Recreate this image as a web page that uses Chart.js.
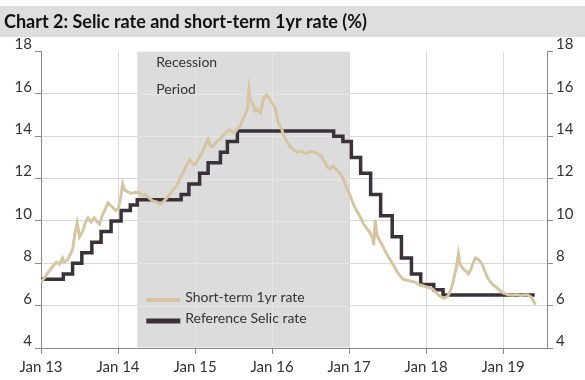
<!DOCTYPE html>
<html>
<head>
<meta charset="utf-8">
<script src="https://cdn.jsdelivr.net/npm/chart.js@4.4.1/dist/chart.umd.min.js"></script>
<style>
  html, body { margin: 0; padding: 0; background: #ffffff; }
  #wrap { width: 585px; height: 380px; position: relative; }
</style>
</head>
<body>
<div id="wrap"><canvas id="c" width="585" height="380"></canvas></div>
<script>
// ---- Data (x values are decimal years) ----
const titleText = 'Chart 2: Selic rate and short-term 1yr rate (%)';
const seriesNames = ['Short-term 1yr rate', 'Reference Selic rate'];

const shortTermDates = [
  2013.00, 2013.05, 2013.09, 2013.15, 2013.20, 2013.24, 2013.28, 2013.30, 2013.34, 2013.37,
  2013.41, 2013.44, 2013.47, 2013.50, 2013.54, 2013.58, 2013.61, 2013.65, 2013.69, 2013.72,
  2013.76, 2013.80, 2013.84, 2013.87, 2013.90, 2013.93, 2013.97, 2014.00, 2014.03, 2014.06,
  2014.09, 2014.12, 2014.17, 2014.22, 2014.27, 2014.32, 2014.36, 2014.40, 2014.45, 2014.50,
  2014.55, 2014.60, 2014.65, 2014.70, 2014.76, 2014.80, 2014.84, 2014.88, 2014.93, 2014.97,
  2015.00, 2015.04, 2015.08, 2015.12, 2015.17, 2015.20, 2015.23, 2015.28, 2015.32, 2015.38,
  2015.45, 2015.51, 2015.55, 2015.58, 2015.62, 2015.65, 2015.68, 2015.70, 2015.72, 2015.75,
  2015.78, 2015.81, 2015.85, 2015.89, 2015.93, 2015.97, 2016.01, 2016.04, 2016.08, 2016.12,
  2016.16, 2016.20, 2016.25, 2016.28, 2016.33, 2016.38, 2016.42, 2016.46, 2016.50, 2016.55,
  2016.60, 2016.64, 2016.68, 2016.72, 2016.75, 2016.79, 2016.83, 2016.87, 2016.90, 2016.94,
  2016.98, 2017.01, 2017.05, 2017.08, 2017.12, 2017.15, 2017.19, 2017.23, 2017.27, 2017.31,
  2017.32, 2017.34, 2017.36, 2017.40, 2017.44, 2017.48, 2017.52, 2017.57, 2017.61, 2017.65,
  2017.70, 2017.75, 2017.81, 2017.86, 2017.90, 2017.95, 2017.99, 2018.04, 2018.08, 2018.12,
  2018.16, 2018.20, 2018.24, 2018.28, 2018.31, 2018.34, 2018.37, 2018.39, 2018.42, 2018.44,
  2018.47, 2018.51, 2018.55, 2018.58, 2018.61, 2018.64, 2018.67, 2018.70, 2018.73, 2018.76,
  2018.80, 2018.84, 2018.88, 2018.92, 2018.96, 2019.00, 2019.04, 2019.09, 2019.13, 2019.18,
  2019.23, 2019.27, 2019.32, 2019.36, 2019.39, 2019.42
];
const shortTermValues = [
  7.10, 7.35, 7.55, 7.85, 8.05, 7.95, 8.25, 8.05, 8.15, 8.35,
  8.65, 9.40, 9.90, 9.25, 9.50, 9.95, 10.15, 9.95, 10.15, 10.00,
  9.85, 10.30, 10.60, 10.85, 10.75, 10.65, 10.50, 10.55, 11.00, 11.75,
  11.45, 11.40, 11.30, 11.35, 11.35, 11.20, 11.25, 11.10, 10.95, 10.90,
  10.80, 10.95, 11.15, 11.40, 11.65, 11.95, 12.25, 12.55, 12.90, 12.70,
  12.65, 12.90, 13.15, 13.45, 13.85, 13.55, 13.50, 13.75, 13.85, 14.10,
  14.30, 14.15, 14.35, 14.45, 14.80, 15.00, 15.30, 16.20, 15.70, 15.55,
  15.20, 15.25, 15.10, 15.80, 15.95, 15.75, 15.50, 15.35, 14.65, 14.40,
  13.95, 13.70, 13.45, 13.35, 13.25, 13.30, 13.20, 13.20, 13.30, 13.25,
  13.15, 13.05, 12.80, 12.55, 12.45, 12.60, 12.45, 12.30, 12.15, 11.85,
  11.45, 11.25, 10.85, 10.60, 10.35, 10.15, 9.85, 9.65, 9.45, 9.15,
  8.85, 10.05, 9.35, 9.05, 8.80, 8.50, 8.25, 7.95, 7.70, 7.45,
  7.25, 7.20, 7.15, 7.10, 7.00, 6.95, 6.90, 6.85, 6.80, 6.65,
  6.50, 6.40, 6.35, 6.45, 6.65, 6.95, 7.45, 7.75, 8.45, 7.95,
  7.80, 7.65, 7.50, 7.70, 8.00, 8.25, 8.20, 8.10, 7.95, 7.65,
  7.30, 7.10, 6.95, 6.85, 6.70, 6.60, 6.55, 6.50, 6.50, 6.52,
  6.48, 6.50, 6.50, 6.42, 6.25, 6.05
];

// Selic: value in force from each decision date
const selicDates = [
  2013.00, 2013.29, 2013.41, 2013.53, 2013.66, 2013.78, 2013.91, 2014.04, 2014.16, 2014.25,
  2014.82, 2014.92, 2015.06, 2015.17, 2015.33, 2015.42, 2015.55, 2016.80, 2016.92, 2017.03,
  2017.15, 2017.28, 2017.41, 2017.56, 2017.68, 2017.81, 2017.93, 2018.10, 2018.22, 2019.41
];
const selicValues = [
  7.25, 7.50, 8.00, 8.50, 9.00, 9.50, 10.00, 10.50, 10.75, 11.00,
  11.25, 11.75, 12.25, 12.75, 13.25, 13.75, 14.25, 14.00, 13.75, 13.00,
  12.25, 11.25, 10.25, 9.25, 8.25, 7.50, 7.00, 6.75, 6.50, 6.50
];

const xTickYears = [2013, 2014, 2015, 2016, 2017, 2018, 2019];
const xTickLabels = ['Jan 13', 'Jan 14', 'Jan 15', 'Jan 16', 'Jan 17', 'Jan 18', 'Jan 19'];
const xRange = [2013.0, 2019.57];
const yRange = [4, 18];
const yStep = 2;

const recessionSpan = [2014.25, 2017.0];
const recessionLabels = ['Recession', 'Period'];

// ---- Styling ----
const TAN = '#d6c5a1';
const DARK = '#3a3139';
const FONT = 'Lato, "Open Sans", sans-serif';
const TEXT = '#333333';
const AXIS = '#8a8a8a';
const GRID = '#d9d9d9';

const toPoints = (xs, ys) => xs.map((x, i) => ({ x: x, y: ys[i] }));

const recessionPlugin = {
  id: 'recession',
  beforeDatasetsDraw(chart) {
    const { ctx, chartArea, scales } = chart;
    const x = scales.x, y = scales.y;
    const x0 = x.getPixelForValue(recessionSpan[0]);
    const x1 = x.getPixelForValue(recessionSpan[1]);
    ctx.save();
    ctx.fillStyle = '#dcdcdc';
    ctx.fillRect(x0, chartArea.top, x1 - x0, chartArea.bottom - chartArea.top - 0.5);
    // lighter gridlines over the shaded band
    ctx.strokeStyle = '#e6e6e6';
    ctx.lineWidth = 1;
    y.ticks.forEach(t => {
      if (t.value === yRange[0] || t.value === yRange[1]) return;
      const py = Math.round(y.getPixelForValue(t.value)) + 0.5;
      ctx.beginPath(); ctx.moveTo(x0, py); ctx.lineTo(x1, py); ctx.stroke();
    });
    x.ticks.forEach(t => {
      if (t.value <= recessionSpan[0] || t.value >= recessionSpan[1]) return;
      const px = Math.round(x.getPixelForValue(t.value)) + 0.5;
      ctx.beginPath(); ctx.moveTo(px, chartArea.top); ctx.lineTo(px, chartArea.bottom - 1); ctx.stroke();
    });
    // label
    ctx.fillStyle = TEXT;
    ctx.font = '14px ' + FONT;
    ctx.textBaseline = 'middle';
    ctx.textAlign = 'left';
    recessionLabels.forEach((s, i) => ctx.fillText(s, x0 + 19, chartArea.top + 11 + i * 27));
    ctx.restore();
  }
};

const legendPlugin = {
  id: 'insideLegend',
  afterDatasetsDraw(chart) {
    const { ctx, scales } = chart;
    const x = scales.x;
    const x0 = x.getPixelForValue(recessionSpan[0]) + 9;
    const baseY = 297;
    ctx.save();
    ctx.font = '14px ' + FONT;
    ctx.textBaseline = 'middle';
    ctx.textAlign = 'left';
    chart.data.datasets.forEach((ds, i) => {
      const yy = baseY + i * 21;
      ctx.strokeStyle = ds.borderColor;
      ctx.lineWidth = i === 0 ? 4 : 5;
      ctx.beginPath(); ctx.moveTo(x0, yy + 3); ctx.lineTo(x0 + 34, yy + 3); ctx.stroke();
      ctx.fillStyle = TEXT;
      ctx.fillText(ds.label, x0 + 39, yy);
    });
    ctx.restore();
  }
};

const titleBarPlugin = {
  id: 'titleBar',
  beforeDraw(chart) {
    const { ctx, width } = chart;
    ctx.save();
    ctx.fillStyle = '#dedede';
    ctx.fillRect(0, 6, width, 31);
    ctx.restore();
  }
};

new Chart(document.getElementById('c'), {
  type: 'line',
  data: {
    datasets: [
      {
        label: seriesNames[0],
        data: toPoints(shortTermDates, shortTermValues),
        borderColor: TAN,
        borderWidth: 3,
        pointRadius: 0,
        tension: 0,
        yAxisID: 'y'
      },
      {
        label: seriesNames[1],
        data: toPoints(selicDates, selicValues),
        borderColor: DARK,
        borderWidth: 3.5,
        pointRadius: 0,
        stepped: true,
        yAxisID: 'y'
      }
    ]
  },
  plugins: [titleBarPlugin, recessionPlugin, legendPlugin],
  options: {
    responsive: false,
    animation: false,
    layout: { padding: { left: 4, right: 0, top: 0, bottom: 0 } },
    plugins: {
      legend: { display: false },
      tooltip: { enabled: false },
      title: {
        display: true,
        text: titleText,
        align: 'start',
        color: '#111111',
        font: { family: FONT, size: 18, weight: 'bold', lineHeight: 1.2 },
        padding: { top: 11, bottom: 19 }
      }
    },
    scales: {
      x: {
        type: 'linear',
        min: xRange[0],
        max: xRange[1],
        afterBuildTicks(scale) { scale.ticks = xTickYears.map(v => ({ value: v })); },
        afterFit(scale) { scale.height = 32; },
        ticks: {
          autoSkip: false,
          maxRotation: 0,
          padding: 4,
          color: TEXT,
          font: { family: FONT, size: 15 },
          callback: (v) => xTickLabels[xTickYears.indexOf(v)]
        },
        grid: { color: GRID, tickColor: AXIS, tickLength: 6, drawOnChartArea: true },
        border: { display: true, color: AXIS }
      },
      y: {
        type: 'linear',
        position: 'left',
        min: yRange[0],
        max: yRange[1],
        afterFit(scale) { scale.width = 37; },
        ticks: {
          stepSize: yStep,
          padding: 3,
          labelOffset: -7,
          color: TEXT,
          font: { family: FONT, size: 15 }
        },
        grid: {
          color: (c) => (c.tick && c.tick.value === yRange[1]) ? 'rgba(0,0,0,0)' : GRID,
          tickColor: AXIS,
          tickLength: 6
        },
        border: { display: true, color: AXIS }
      },
      y2: {
        type: 'linear',
        position: 'right',
        display: true,
        min: yRange[0],
        max: yRange[1],
        afterFit(scale) { scale.width = 38; },
        ticks: {
          stepSize: yStep,
          padding: 3,
          labelOffset: -7,
          color: TEXT,
          font: { family: FONT, size: 15 }
        },
        grid: { drawOnChartArea: false, tickColor: AXIS, tickLength: 6 },
        border: { display: true, color: AXIS }
      }
    }
  }
});
</script>
</body>
</html>
